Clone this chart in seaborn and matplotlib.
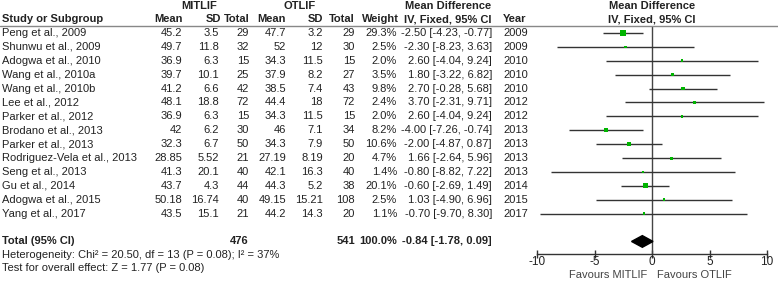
import numpy as np
import pandas as pd
import seaborn as sns
import matplotlib
matplotlib.use("Agg")
import matplotlib.pyplot as plt
from matplotlib import transforms
from matplotlib.lines import Line2D

studies = ["Peng et al., 2009", "Shunwu et al., 2009", "Adogwa et al., 2010", "Wang et al., 2010a",
           "Wang et al., 2010b", "Lee et al., 2012", "Parker et al., 2012", "Brodano et al., 2013",
           "Parker et al., 2013", "Rodriguez-Vela et al., 2013", "Seng et al., 2013", "Gu et al., 2014",
           "Adogwa et al., 2015", "Yang et al., 2017"]
mit_mean = ["45.2", "49.7", "36.9", "39.7", "41.2", "48.1", "36.9", "42", "32.3", "28.85", "41.3", "43.7", "50.18", "43.5"]
mit_sd = ["3.5", "11.8", "6.3", "10.1", "6.6", "18.8", "6.3", "6.2", "6.7", "5.52", "20.1", "4.3", "16.74", "15.1"]
mit_n = [29, 32, 15, 25, 42, 72, 15, 30, 50, 21, 40, 44, 40, 21]
ot_mean = ["47.7", "52", "34.3", "37.9", "38.5", "44.4", "34.3", "46", "34.3", "27.19", "42.1", "44.3", "49.15", "44.2"]
ot_sd = ["3.2", "12", "11.5", "8.2", "7.4", "18", "11.5", "7.1", "7.9", "8.19", "16.3", "5.2", "15.21", "14.3"]
ot_n = [29, 30, 15, 27, 43, 72, 15, 34, 50, 20, 40, 38, 108, 20]
weight = [29.3, 2.5, 2.0, 3.5, 9.8, 2.4, 2.0, 8.2, 10.6, 4.7, 1.4, 20.1, 2.5, 1.1]
md = [-2.50, -2.30, 2.60, 1.80, 2.70, 3.70, 2.60, -4.00, -2.00, 1.66, -0.80, -0.60, 1.03, -0.70]
lo = [-4.23, -8.23, -4.04, -3.22, -0.28, -2.31, -4.04, -7.26, -4.87, -2.64, -8.82, -2.69, -4.90, -9.70]
hi = [-0.77, 3.63, 9.24, 6.82, 5.68, 9.71, 9.24, -0.74, 0.87, 5.96, 7.22, 1.49, 6.96, 8.30]
years = [2009, 2009, 2010, 2010, 2010, 2012, 2012, 2013, 2013, 2013, 2013, 2014, 2015, 2017]
total_mit, total_ot = 476, 541
total_md, total_lo, total_hi = -0.84, -1.78, 0.09
xticks = [-10, -5, 0, 5, 10]

df = pd.DataFrame({"study": studies, "md": md, "lo": lo, "hi": hi, "weight": weight})
df["row"] = np.arange(len(df))

sns.set_style("white")
plt.rcParams["font.family"] = ["Liberation Sans", "DejaVu Sans"]

W, H = 778, 281
fig = plt.figure(figsize=(W / 100, H / 100), dpi=100)
ax = fig.add_axes([537 / W, 1 - 254 / H, 230 / W, 228 / H])
ax.set_xlim(-10, 10)
ax.set_ylim(-0.5 + 228 / 13.9, -0.5)

txt = "#222222"
line_c = "#333333"

# forest plot
ax.axvline(0, color="#444444", lw=1, zorder=1)
ax.hlines(df["row"], df["lo"], df["hi"], color=line_c, lw=1, zorder=2)
sns.scatterplot(data=df, x="md", y="row", size="weight", sizes=(3, 18), marker="s",
                color="#00b400", edgecolor="none", legend=False, ax=ax, zorder=3)
total_y = 15
ax.fill([total_lo, total_md, total_hi, total_md], [total_y, total_y - 0.42, total_y, total_y + 0.42],
        color="black", zorder=4)

for s in ["left", "right", "top"]:
    ax.spines[s].set_visible(False)
ax.spines["bottom"].set_color(line_c)
ax.spines["bottom"].set_linewidth(1)
ax.set_xticks(xticks)
ax.set_xticklabels([str(t) for t in xticks], fontsize=8.5, color=txt)
ax.tick_params(axis="x", direction="inout", length=6, width=1, color=line_c, pad=-1.5, bottom=True)
ax.set_yticks([])
ax.set_xlabel("")
ax.set_ylabel("")

fav = transforms.blended_transform_factory(ax.transData, ax.transAxes)
ax.text(-0.45, -0.093, "Favours MITLIF", transform=fav, ha="right", va="center", fontsize=8, color="#444444")
ax.text(0.45, -0.093, "Favours OTLIF", transform=fav, ha="left", va="center", fontsize=8, color="#444444")

# table
tr = transforms.blended_transform_factory(fig.transFigure, ax.transData)


def put(x, y, s, ha="right", bold=False, size=8):
    ax.text(x / W, y, s, transform=tr, ha=ha, va="center", fontsize=size, color=txt,
            fontweight="bold" if bold else "normal")


hy, gy = -1.0, -1.95
put(199, gy, "MITLIF", ha="center", bold=True)
put(300, gy, "OTLIF", ha="center", bold=True)
put(448, gy, "Mean Difference", ha="center", bold=True)
put(652, gy, "Mean Difference", ha="center", bold=True)
put(2, hy, "Study or Subgroup", ha="left", bold=True)
for x, s in [(183, "Mean"), (221, "SD"), (250, "Total"), (286, "Mean"), (323, "SD"),
             (355, "Total"), (399, "Weight")]:
    put(x, hy, s, bold=True)
put(448, hy, "IV, Fixed, 95% CI", ha="center", bold=True)
put(503, hy, "Year", ha="left", bold=True)
put(652, hy, "IV, Fixed, 95% CI", ha="center", bold=True)

fig.add_artist(Line2D([0, 1], [-0.5, -0.5], transform=tr, color="#888888", lw=1))

for i in range(len(studies)):
    put(2, i, studies[i], ha="left")
    put(182, i, mit_mean[i])
    put(219, i, mit_sd[i])
    put(249, i, str(mit_n[i]))
    put(286, i, ot_mean[i])
    put(323, i, ot_sd[i])
    put(355, i, str(ot_n[i]))
    put(397, i, f"{weight[i]:.1f}%")
    put(492, i, f"{md[i]:.2f} [{lo[i]:.2f}, {hi[i]:.2f}]")
    put(503, i, str(years[i]), ha="left")

put(2, total_y, "Total (95% CI)", ha="left", bold=True)
put(249, total_y, str(total_mit), bold=True)
put(355, total_y, str(total_ot), bold=True)
put(397, total_y, "100.0%", bold=True)
put(492, total_y, f"{total_md:.2f} [{total_lo:.2f}, {total_hi:.2f}]", bold=True)
put(2, 15.97, "Heterogeneity: Chi\u00b2 = 20.50, df = 13 (P = 0.08); I\u00b2 = 37%", ha="left")
put(2, 16.9, "Test for overall effect: Z = 1.77 (P = 0.08)", ha="left")

fig.savefig("out.png", dpi=100, facecolor="white")
